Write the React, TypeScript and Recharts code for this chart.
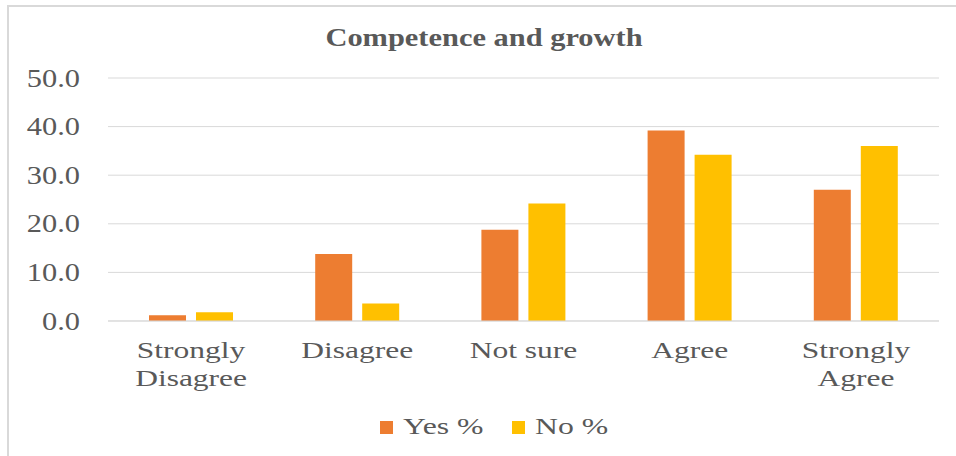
import React from 'react';
import { BarChart, Bar, XAxis, YAxis, CartesianGrid, Legend } from 'recharts';

const categories = ['Strongly Disagree', 'Disagree', 'Not sure', 'Agree', 'Strongly Agree'];
const categoryLines = [['Strongly', 'Disagree'], ['Disagree'], ['Not sure'], ['Agree'], ['Strongly', 'Agree']];
const yesValues = [1.2, 13.8, 18.8, 39.2, 27.0];
const noValues = [1.8, 3.6, 24.2, 34.2, 36.0];
const yTicks = [0, 10, 20, 30, 40, 50];
const seriesNames = ['Yes %', 'No %'];
const seriesColors = ['#ED7D31', '#FFC000'];
const titleText = 'Competence and growth';

const data = categories.map((c, i) => ({ name: c, yes: yesValues[i], no: noValues[i] }));

const FONT = '"Liberation Serif", "Times New Roman", serif';
const TEXT = '#595959';

const XTick = (props: any) => {
  const { x, y, payload } = props;
  const idx = categories.indexOf(payload.value);
  const lines = idx >= 0 ? categoryLines[idx] : [String(payload.value)];
  return (
    <g transform={`translate(${x},${y})`}>
      <text transform="scale(1.37,1)" textAnchor="middle" fill={TEXT} fontSize={23} fontFamily={FONT}>
        {lines.map((l, i) => (
          <tspan key={i} x={0} y={37 + i * 28}>{l}</tspan>
        ))}
      </text>
    </g>
  );
};

const YTick = (props: any) => {
  const { x, y, payload } = props;
  return (
    <g transform={`translate(${x},${y})`}>
      <text transform="scale(1.17,1)" textAnchor="end" y={8.5} fill={TEXT} fontSize={26} fontFamily={FONT}>
        {Number(payload.value).toFixed(1)}
      </text>
    </g>
  );
};

const legendX = [380, 512];

const LegendContent = (props: any) => {
  const payload = [...(props.payload || [])].sort(
    (a: any, b: any) => seriesNames.indexOf(a.value) - seriesNames.indexOf(b.value)
  );
  return (
    <svg width={956} height={30} style={{ display: 'block', overflow: 'visible' }}>
      {payload.map((p: any, i: number) => (
        <g key={i}>
          <rect x={legendX[i]} y={6} width={13} height={13} fill={p.color} />
          <text transform={`translate(${legendX[i] + 23},19) scale(1.38,1)`} fill={TEXT} fontSize={23} fontFamily={FONT}>
            {p.value}
          </text>
        </g>
      ))}
    </svg>
  );
};

export default function App() {
  return (
    <div style={{ position: 'absolute', left: 0, top: 0, width: 956, height: 456, overflow: 'hidden', background: '#fff' }}>
      <div style={{ position: 'absolute', left: 7, top: 5, width: 1000, height: 520, border: '2px solid #d9d9d9' }} />
      <div
        style={{
          position: 'absolute', left: 484, top: 51, transform: 'translate(-50%, -100%) scaleX(1.17)',
          fontFamily: FONT, fontWeight: 'bold', fontSize: 26, color: TEXT, whiteSpace: 'nowrap', lineHeight: '26px',
        }}
      >
        {titleText}
      </div>
      <div style={{ position: 'absolute', left: 0, top: 0 }}>
        <BarChart
          width={956}
          height={456}
          data={data}
          margin={{ top: 78, right: 17, left: 0, bottom: 11 }}
          barSize={37}
          barGap={10}
        >
          <CartesianGrid vertical={false} stroke="#d9d9d9" strokeWidth={1} />
          <XAxis
            dataKey="name"
            height={94}
            tickLine={false}
            tickSize={0}
            tickMargin={0}
            axisLine={{ stroke: '#d9d9d9', strokeWidth: 1 }}
            tick={<XTick />}
            interval={0}
          />
          <YAxis
            width={108}
            domain={[0, 50]}
            ticks={yTicks}
            axisLine={false}
            tickLine={false}
            tickSize={0}
            tickMargin={28}
            tick={<YTick />}
          />
          <Legend
            verticalAlign="bottom"
            align="left"
            wrapperStyle={{ left: 0, bottom: 11, width: 956, height: 30 }}
            content={<LegendContent />}
          />
          <Bar dataKey="yes" name={seriesNames[0]} fill={seriesColors[0]} isAnimationActive={false} />
          <Bar dataKey="no" name={seriesNames[1]} fill={seriesColors[1]} isAnimationActive={false} />
        </BarChart>
      </div>
    </div>
  );
}
